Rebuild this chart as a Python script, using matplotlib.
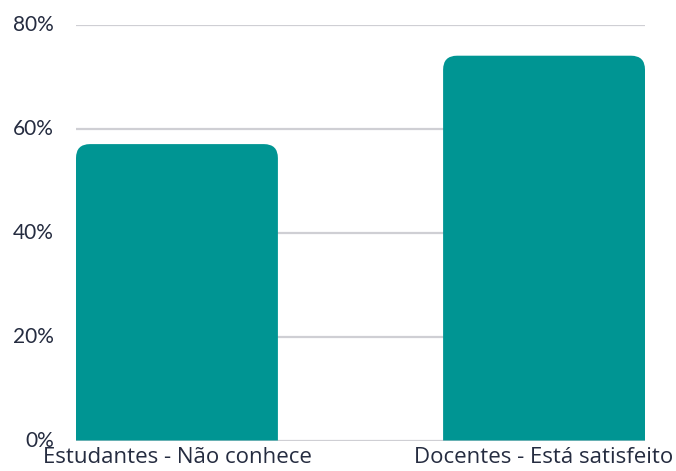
import matplotlib.pyplot as plt
import matplotlib.transforms as mtransforms
from matplotlib.path import Path
from matplotlib.patches import PathPatch

categories = ["Estudantes - Não conhece", "Docentes - Está satisfeito"]
values = [57, 74]
yticks = [0, 20, 40, 60, 80]

barColor = "#009593"
textColor = "#252c40"
gridColor = "#cfcfd4"
barWidth = 0.55
radiusPx = 14

fig = plt.figure(figsize=(6.76, 4.71), dpi=100)
ax = fig.add_axes([76 / 676, 1 - 440.5 / 471, (645 - 76) / 676, (440.5 - 24.5) / 471])

ax.set_xlim(-barWidth / 2, len(categories) - 1 + barWidth / 2)
ax.set_ylim(0, 80)

# radius in data units, x and y differ
axW = (645 - 76)
axH = (440.5 - 24.5)
rx = radiusPx * (len(categories) - 1 + barWidth) / axW
ry = radiusPx * 80 / axH

for i, v in enumerate(values):
    x0 = i - barWidth / 2
    x1 = i + barWidth / 2
    verts = [
        (x0, 0), (x0, v - ry), (x0, v), (x0 + rx, v),
        (x1 - rx, v), (x1, v), (x1, v - ry), (x1, 0), (x0, 0),
    ]
    codes = [
        Path.MOVETO, Path.LINETO, Path.CURVE3, Path.CURVE3,
        Path.LINETO, Path.CURVE3, Path.CURVE3, Path.LINETO, Path.CLOSEPOLY,
    ]
    ax.add_patch(PathPatch(Path(verts, codes), facecolor=barColor, edgecolor="none", zorder=3))

for t in yticks:
    ax.axhline(t, color=gridColor, lw=1.6, zorder=1)

for s in ax.spines.values():
    s.set_visible(False)

ax.set_yticks(yticks)
ax.set_yticklabels([f"{t}%" for t in yticks], fontsize=15, color=textColor, family="Lato")
ax.tick_params(axis="y", length=0, pad=16)
# tiny nudge up so "0%" clears the category labels
shift = mtransforms.ScaledTranslation(0, 1.5 / 100, fig.dpi_scale_trans)
for lbl in ax.get_yticklabels():
    lbl.set_transform(lbl.get_transform() + shift)

ax.set_xticks(range(len(categories)))
ax.set_xticklabels(categories, fontsize=16, color=textColor, family="Open Sans")
ax.tick_params(axis="x", length=0, pad=5)

fig.savefig("out.png", dpi=100)
